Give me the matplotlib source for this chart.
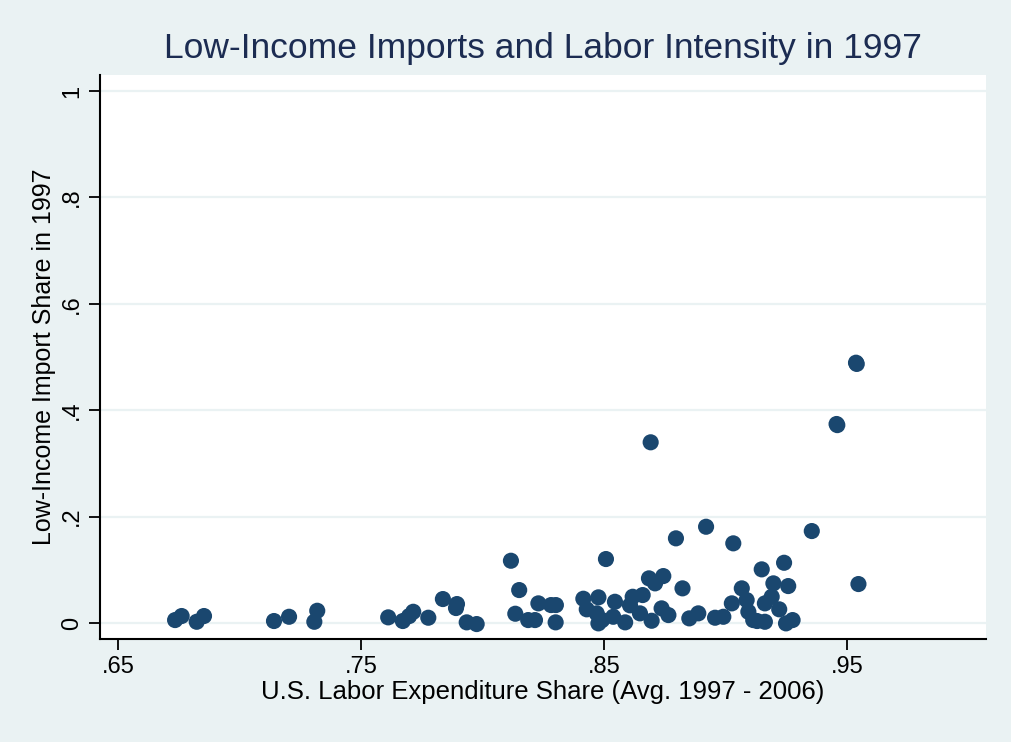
"""Scatter of low-income import share vs. labor expenditure share (1997)."""

import matplotlib

matplotlib.use("Agg", force=True)
import matplotlib.pyplot as plt

# labor expenditure share (avg. 1997-2006)
labor_share = [
    0.6735, 0.6762, 0.6824, 0.6854, 0.7142, 0.7204, 0.7308, 0.7320,
    0.7612, 0.7672, 0.7698, 0.7715, 0.7777, 0.7837, 0.7895, 0.7891,
    0.7935, 0.7976, 0.8117, 0.8151, 0.8135, 0.8188, 0.8216, 0.8230,
    0.8282, 0.8302, 0.8301, 0.8415, 0.8429, 0.8477, 0.8470, 0.8477,
    0.8508, 0.8545, 0.8538, 0.8492, 0.8587, 0.8618, 0.8607, 0.8659,
    0.8685, 0.8710, 0.8744, 0.8648, 0.8696, 0.8737, 0.8765, 0.8796,
    0.8823, 0.8851, 0.8888, 0.8920, 0.8957, 0.8991, 0.9032, 0.9026,
    0.9067, 0.9087, 0.9094, 0.9114, 0.9130, 0.9162, 0.9149, 0.9162,
    0.9190, 0.9197, 0.9241, 0.9258, 0.9221, 0.9249, 0.9276, 0.9355,
    0.9547, 0.9537, 0.9540, 0.9457, 0.9460, 0.8692,
]

# low-income import share in 1997
import_share = [
    0.0056, 0.0132, 0.0024, 0.0132, 0.0038, 0.0118, 0.0024, 0.0231,
    0.0107, 0.0038, 0.0130, 0.0212, 0.0100, 0.0451, 0.0357, 0.0282,
    0.0013, -0.0019, 0.1171, 0.0620, 0.0175, 0.0056, 0.0056, 0.0370,
    0.0338, 0.0338, 0.0013, 0.0457, 0.0258, 0.0483, 0.0182, -0.0006,
    0.1203, 0.0400, 0.0118, 0.0056, 0.0013, 0.0494, 0.0333, 0.0526,
    0.0840, 0.0746, 0.0883, 0.0182, 0.0043, 0.0276, 0.0150, 0.1592,
    0.0652, 0.0088, 0.0182, 0.1810, 0.0100, 0.0118, 0.1498, 0.0370,
    0.0652, 0.0432, 0.0212, 0.0056, 0.0038, 0.0024, 0.1009, 0.0370,
    0.0494, 0.0746, 0.1133, 0.0695, 0.0258, -0.0006, 0.0056, 0.1729,
    0.0733, 0.4893, 0.4870, 0.3741, 0.3720, 0.3397,
]

x_ticks = [0.65, 0.75, 0.85, 0.95]
x_tick_labels = [".65", ".75", ".85", ".95"]
y_ticks = [0, 0.2, 0.4, 0.6, 0.8, 1.0]
y_tick_labels = ["0", ".2", ".4", ".6", ".8", "1"]

BG = "#EAF2F3"
NAVY = "#1A476F"

plt.rcParams["font.family"] = ["Liberation Sans", "DejaVu Sans"]

fig = plt.figure(figsize=(10.11, 7.42), dpi=100, facecolor=BG)
ax = fig.add_axes([0.0989, 0.1388, 0.8764, 0.7601])
ax.set_facecolor("white")

ax.scatter(labor_share, import_share, s=135, color=NAVY, edgecolors="none", zorder=3)

ax.set_xlim(0.6426, 1.0072)
ax.set_ylim(-0.030, 1.030)
ax.set_xticks(x_ticks)
ax.set_xticklabels(x_tick_labels)
ax.set_yticks(y_ticks)
ax.set_yticklabels(y_tick_labels, rotation=90, va="center")

ax.grid(axis="y", color=BG, linewidth=1.6, zorder=0)
for side in ("top", "right"):
    ax.spines[side].set_visible(False)
for side in ("left", "bottom"):
    ax.spines[side].set_linewidth(1.5)
    ax.spines[side].set_color("black")
ax.tick_params(length=8, width=1.3, labelsize=17, pad=4)

ax.set_xlabel("U.S. Labor Expenditure Share (Avg. 1997 - 2006)", fontsize=18.5, labelpad=2)
ax.set_ylabel("Low-Income Import Share in 1997", fontsize=18, labelpad=4)
# title is centred over the plot region, not the whole figure
fig.suptitle("Low-Income Imports and Labor Intensity in 1997",
             fontsize=25.5, color="#1C2C52", x=0.537, y=0.935, va="center")

fig.savefig("out.png", dpi=100, facecolor=BG)
plt.close(fig)
